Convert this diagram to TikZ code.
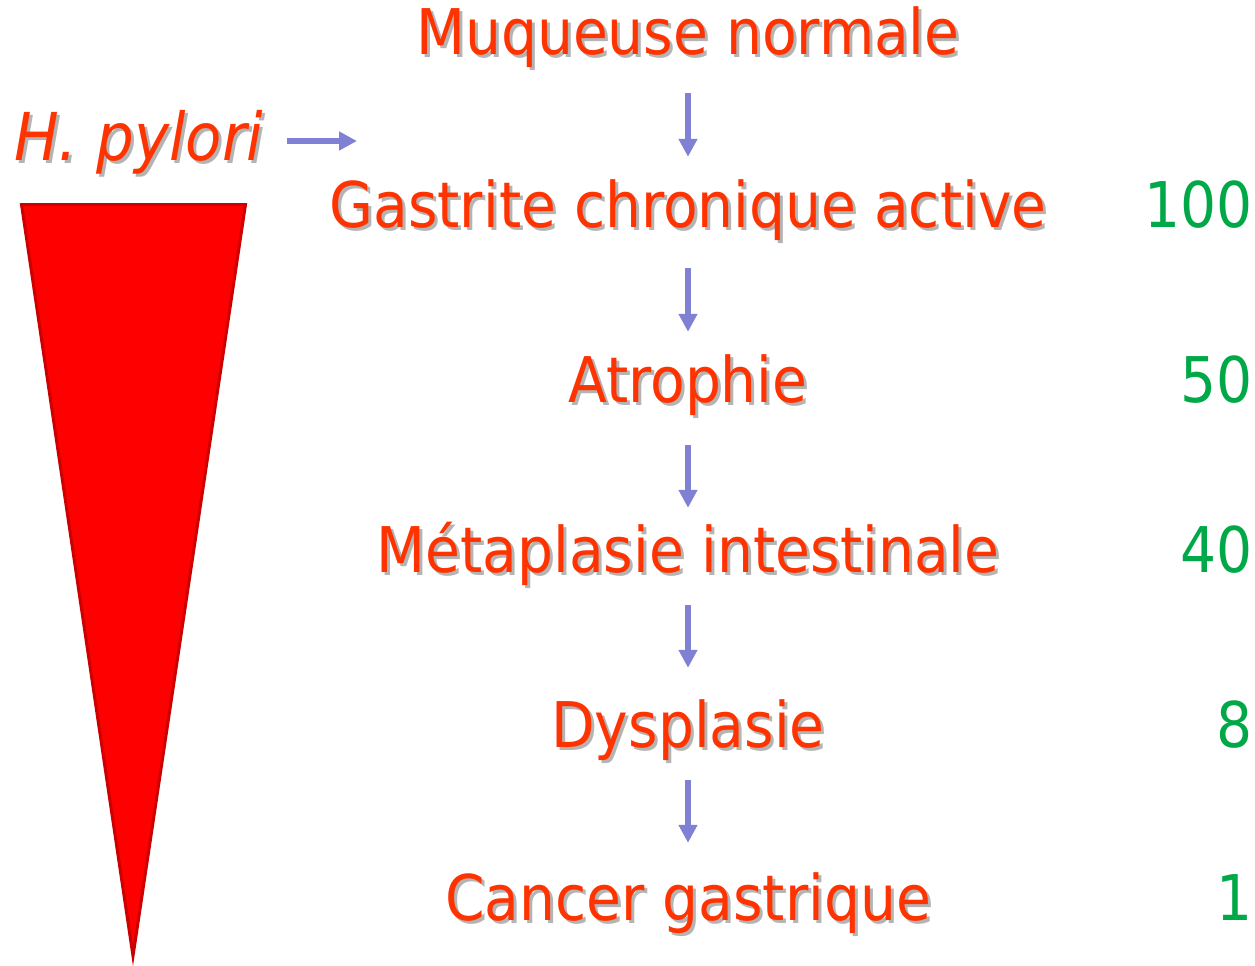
\documentclass[tikz,border=0pt]{standalone}
\usepackage{fontspec}
\setmainfont{DejaVu Sans Condensed}
\usetikzlibrary{arrows.meta}

\definecolor{stagered}{RGB}{255,51,0}
\definecolor{ratiogreen}{RGB}{0,168,72}
\definecolor{flowblue}{RGB}{128,128,212}
\definecolor{shadowgray}{RGB}{180,180,180}
\definecolor{conered}{RGB}{255,0,0}
\definecolor{coneedge}{RGB}{204,0,0}

\newcommand{\dropshadow}[1]{\makebox[0pt][l]{\kern3pt\raisebox{-3pt}{\color{shadowgray}#1}}#1}

\tikzset{
  stage/.style={anchor=base, inner sep=0pt, text=stagered, font=\fontsize{63}{70}\selectfont,
    text height=48pt, text depth=15pt},
  ratio/.style={anchor=base east, inner sep=0pt, text=ratiogreen, font=\fontsize{63}{70}\selectfont},
  flow/.style={draw=flowblue, line width=6pt, -{Triangle[width=18pt,length=18pt]}}
}

\begin{document}
\begin{tikzpicture}[x=1pt,y=-1pt]
      \useasboundingbox (0,0) rectangle (1255,966);
      \filldraw[fill=conered, draw=coneedge, line width=3pt] (21.5,204.5) -- (245.5,204.5) -- (133,956) -- cycle;
      \node[anchor=base west, inner sep=0pt, text=stagered, font=\fontsize{66}{72}\selectfont\itshape] (hp) at (14,160) {\dropshadow{H. pylori}};
      \coordinate (hpend) at (357,141);
      \draw[flow, shorten <=24pt] (hp.east |- hpend) -- (hpend);
      \node[stage] (muq) at (688,55)  {\dropshadow{Muqueuse normale}};
      \node[stage] (gas) at (688,227) {\dropshadow{Gastrite chronique active}};
      \node[stage] (atr) at (688,402) {\dropshadow{Atrophie}};
      \node[stage] (met) at (688,572) {\dropshadow{Métaplasie intestinale}};
      \node[stage] (dys) at (688,747) {\dropshadow{Dysplasie}};
      \node[stage] (can) at (688,920) {\dropshadow{Cancer gastrique}};
      \draw[flow, shorten <=23pt, shorten >=22pt] (muq) -- (gas);
      \draw[flow, shorten <=26pt, shorten >=22pt] (gas) -- (atr);
      \draw[flow, shorten <=28pt, shorten >=16pt] (atr) -- (met);
      \draw[flow, shorten <=18pt, shorten >=31pt] (met) -- (dys);
      \draw[flow, shorten <=18pt, shorten >=29pt] (dys) -- (can);
      \node[ratio] (r100) at (1253,227) {100};
      \node[ratio] (r50)  at (1253,402) {50};
      \node[ratio] (r40)  at (1253,572) {40};
      \node[ratio] (r8)   at (1253,747) {8};
      \node[ratio] (r1)   at (1253,920) {1};
    \end{tikzpicture}
\end{document}
